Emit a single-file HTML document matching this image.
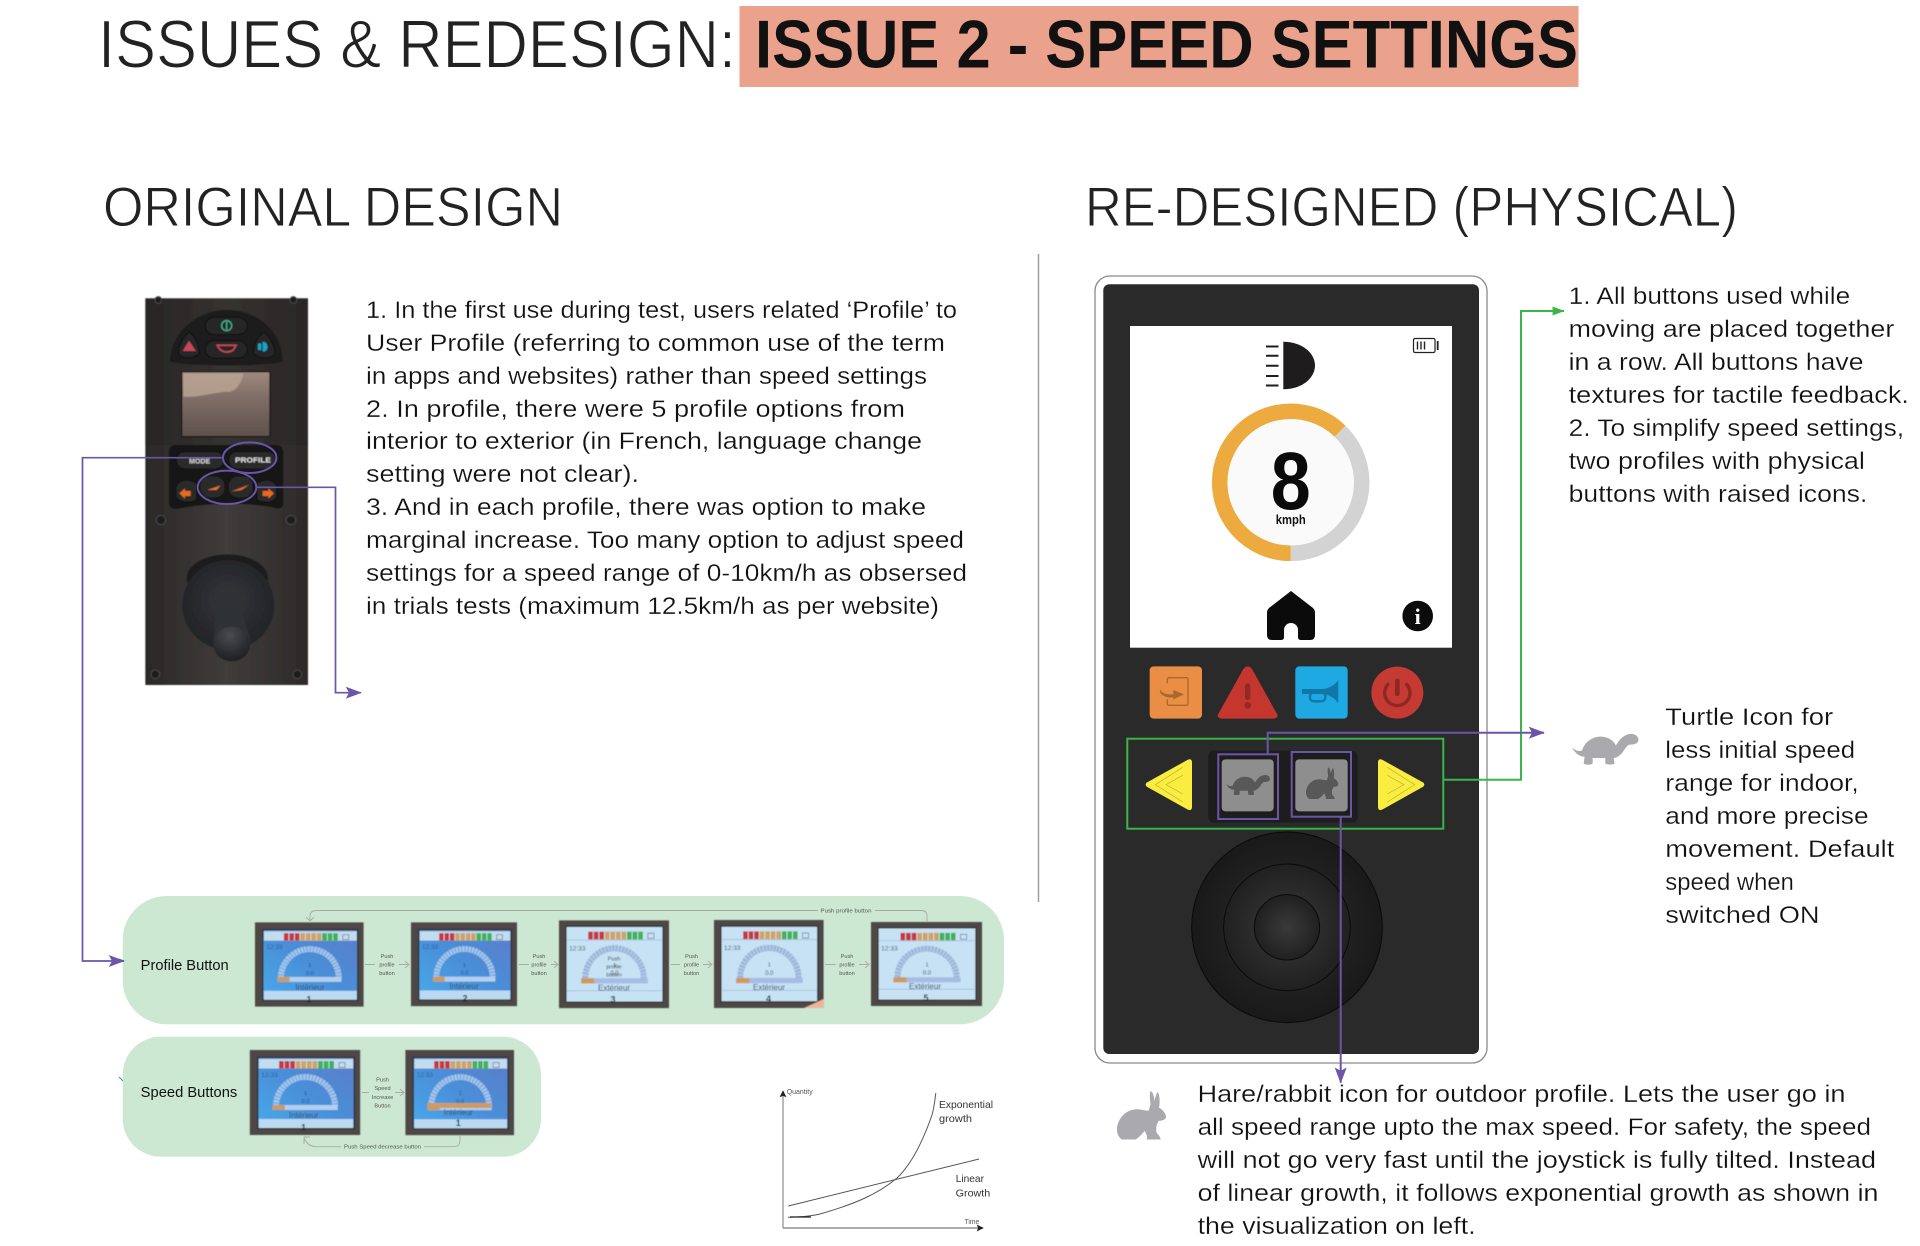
<!DOCTYPE html>
<html>
<head>
<meta charset="utf-8">
<title>Issue 2 - Speed Settings</title>
<style>
html,body{margin:0;padding:0;background:#fff;width:1920px;height:1246px;overflow:hidden}
svg{display:block}
text{font-family:"Liberation Sans",sans-serif}
.t{font-size:24px;fill:#111;stroke:#fff;stroke-width:.22px}
.h{font-size:56px;fill:#222;stroke:#fff;stroke-width:.9px}
.m{font-size:68px;fill:#222;stroke:#fff;stroke-width:1.1px}
.s{font-size:5.6px;fill:#555;text-anchor:middle}
.lb{font-size:8px;fill:#3b4a66;text-anchor:middle}
.n{font-size:9px;font-weight:bold;fill:#1c2a44;text-anchor:middle}
</style>
</head>
<body>
<svg width="1920" height="1246" viewBox="0 0 1920 1246" xmlns="http://www.w3.org/2000/svg">
<defs>
<filter id="soft" x="-5%" y="-5%" width="110%" height="110%"><feGaussianBlur stdDeviation=".45"/></filter>
<filter id="soft2" x="-5%" y="-5%" width="110%" height="110%"><feGaussianBlur stdDeviation="1.6"/></filter>
<marker id="pa" viewBox="0 0 10 10" refX="9.5" refY="5" markerWidth="16" markerHeight="12" markerUnits="userSpaceOnUse" orient="auto" preserveAspectRatio="none"><path d="M0,0L10,5L0,10L2,5Z" fill="#6a55a8"/></marker>
<marker id="ga" viewBox="0 0 10 10" refX="9.5" refY="5" markerWidth="12" markerHeight="9" markerUnits="userSpaceOnUse" orient="auto" preserveAspectRatio="none"><path d="M0,0L10,5L0,10Z" fill="#3bb54a"/></marker>
<marker id="k" viewBox="0 0 10 10" refX="9" refY="5" markerWidth="7" markerHeight="7" markerUnits="userSpaceOnUse" orient="auto"><path d="M0,0L10,5L0,10L2,5Z" fill="#222"/></marker>
<linearGradient id="plate" x1="0" x2="1" y1="0" y2="0"><stop offset="0" stop-color="#2b2827"/><stop offset=".5" stop-color="#403c3b"/><stop offset="1" stop-color="#2d2a29"/></linearGradient>
<linearGradient id="lcd" x1="0" x2="0" y1="0" y2="1"><stop offset="0" stop-color="#a08a7e"/><stop offset=".35" stop-color="#84706a"/><stop offset="1" stop-color="#5e504c"/></linearGradient>
<linearGradient id="bl" x1="0" x2="1" y1="1" y2="0"><stop offset="0" stop-color="#4aa9ea"/><stop offset=".5" stop-color="#4a8fd8"/><stop offset="1" stop-color="#5c7cc8"/></linearGradient>
<radialGradient id="j1"><stop offset="0" stop-color="#2e2e2e"/><stop offset="1" stop-color="#191919"/></radialGradient>
<radialGradient id="j2"><stop offset="0" stop-color="#3a3a3a"/><stop offset="1" stop-color="#202020"/></radialGradient>
<radialGradient id="jb" cx=".5" cy=".45"><stop offset="0" stop-color="#35373b"/><stop offset="1" stop-color="#232528"/></radialGradient>
<radialGradient id="kn" cx=".45" cy=".25" r=".8"><stop offset="0" stop-color="#4a4c50"/><stop offset=".6" stop-color="#2c2e31"/><stop offset="1" stop-color="#1d1e20"/></radialGradient>

<symbol id="rabbit" viewBox="0 0 146 146" preserveAspectRatio="none"><path d="M0,112C2,85 25,55 60,55C75,55 88,62 95,58L100,40C97,20 97,5 100,0C108,5 110,15 112,30C115,15 118,5 122,3C128,15 128,35 125,50C135,55 146,68 146,78C146,86 135,90 124,90C118,100 115,112 118,125C122,132 130,138 130,146L88,146C92,138 88,130 82,120C75,130 65,140 55,146L14,146C4,138 -1,126 0,112Z"/></symbol>
<symbol id="turtle" viewBox="0 0 200 93" preserveAspectRatio="none"><path d="M0,40C10,50 20,52 30,50C38,25 60,8 85,8C110,8 125,20 132,35C140,20 155,0 178,0C193,0 200,10 200,17C200,27 190,32 175,32C165,32 160,45 150,58C140,68 130,72 125,72L128,88C128,92 105,93 100,88L100,72L62,72L62,88C60,93 38,93 35,88L38,68C25,68 10,60 0,40Z"/></symbol>

<g id="bars">
<rect x="29" y="11" width="4.5" height="7.5" fill="#c8353c"/><rect x="34.5" y="11" width="4.5" height="7.5" fill="#c8353c"/><rect x="40" y="11" width="4.5" height="7.5" fill="#c8353c"/>
<rect x="45.5" y="11" width="4.5" height="7.5" fill="#d2a15f"/><rect x="51" y="11" width="4.5" height="7.5" fill="#d2a15f"/><rect x="56.5" y="11" width="4.5" height="7.5" fill="#d2a15f"/><rect x="62" y="11" width="4.5" height="7.5" fill="#d2a15f"/>
<rect x="67.5" y="11" width="4.5" height="7.5" fill="#3cb253"/><rect x="73" y="11" width="4.5" height="7.5" fill="#3cb253"/><rect x="78.5" y="11" width="4.5" height="7.5" fill="#3cb253"/>
<rect x="88" y="12.5" width="6" height="5" fill="none" stroke="#6a7a90" stroke-width=".7"/>
</g>
<symbol id="sb" viewBox="0 0 109 85" preserveAspectRatio="none">
<rect width="109" height="85" fill="#4d4744"/>
<rect x="8" y="7.5" width="95" height="71" fill="url(#bl)" stroke="#24201f" stroke-width="1"/>
<rect x="9" y="9" width="93" height="9.5" fill="#c3dcee"/>
<rect x="9" y="69" width="93" height="9" fill="#bcd9f2"/>
<use href="#bars"/>
<path d="M26,56A29,29 0 0 1 84,56" fill="none" stroke="#a3c4ea" stroke-width="6" stroke-dasharray="2.7 .6"/>
<rect x="22.7" y="55" width="64" height="5" fill="#b4cfee"/><rect x="22.7" y="55" width="12" height="5" fill="#d09a66"/>
<text x="11.5" y="27" font-size="6.5" fill="#2c5a98">12:33</text>
<text x="55" y="45" font-size="5.5" fill="#204a88" text-anchor="middle">1</text>
<text x="55" y="53" font-size="5.8" fill="#204a88" text-anchor="middle">0.0</text>
</symbol>
<symbol id="sl" viewBox="0 0 109 85" preserveAspectRatio="none">
<rect width="109" height="85" fill="#4d4744"/>
<rect x="7" y="6" width="96" height="73" fill="#c6e2f4" stroke="#24201f" stroke-width="1"/>
<line x1="8" y1="19" x2="102" y2="19" stroke="#8aa7c4" stroke-width=".5"/>
<line x1="8" y1="68" x2="102" y2="68" stroke="#8aa7c4" stroke-width=".5"/>
<use href="#bars"/>
<path d="M26,56A29,29 0 0 1 84,56" fill="none" stroke="#9db6da" stroke-width="6" stroke-dasharray="2.7 .6"/>
<rect x="22" y="56" width="66" height="5" fill="#a6bce4"/><rect x="22" y="56" width="13" height="5" fill="#d09a5e"/>
<text x="10" y="29" font-size="6.5" fill="#444f60">12:33</text>
<text x="55" y="45" font-size="5.5" fill="#333c4a" text-anchor="middle">1</text>
<text x="55" y="53" font-size="5.8" fill="#333c4a" text-anchor="middle">0.0</text>
</symbol>
</defs>

<!-- title -->
<rect x="739.5" y="6" width="839" height="81" fill="#eba28c"/>
<text class="m" x="98" y="67.5" textLength="638" lengthAdjust="spacingAndGlyphs">ISSUES &amp; REDESIGN:</text>
<text x="755" y="67.5" font-size="68" font-weight="bold" fill="#111" textLength="823" lengthAdjust="spacingAndGlyphs">ISSUE 2 - SPEED SETTINGS</text>

<text class="h" x="103" y="226" textLength="460" lengthAdjust="spacingAndGlyphs">ORIGINAL DESIGN</text>
<text class="h" x="1085" y="226" textLength="653" lengthAdjust="spacingAndGlyphs">RE-DESIGNED (PHYSICAL)</text>

<line x1="1038.5" y1="254" x2="1038.5" y2="902" stroke="#9a9a9a" stroke-width="1.4"/>

<!-- paragraph left -->
<text class="t" x="366" y="318" textLength="591" lengthAdjust="spacingAndGlyphs">1. In the first use during test, users related ‘Profile’ to</text>
<text class="t" x="366" y="351" textLength="579" lengthAdjust="spacingAndGlyphs">User Profile (referring to common use of the term</text>
<text class="t" x="366" y="384" textLength="561" lengthAdjust="spacingAndGlyphs">in apps and websites) rather than speed settings</text>
<text class="t" x="366" y="417" textLength="539" lengthAdjust="spacingAndGlyphs">2. In profile, there were 5 profile options from</text>
<text class="t" x="366" y="449" textLength="556" lengthAdjust="spacingAndGlyphs">interior to exterior (in French, language change</text>
<text class="t" x="366" y="482" textLength="273" lengthAdjust="spacingAndGlyphs">setting were not clear).</text>
<text class="t" x="366" y="515" textLength="560" lengthAdjust="spacingAndGlyphs">3. And in each profile, there was option to make</text>
<text class="t" x="366" y="548" textLength="598" lengthAdjust="spacingAndGlyphs">marginal increase. Too many option to adjust speed</text>
<text class="t" x="366" y="581" textLength="601" lengthAdjust="spacingAndGlyphs">settings for a speed range of 0-10km/h as obsersed</text>
<text class="t" x="366" y="614" textLength="573" lengthAdjust="spacingAndGlyphs">in trials tests (maximum 12.5km/h as per website)</text>

<!-- paragraph right -->
<text class="t" x="1568.6" y="304" textLength="281.6" lengthAdjust="spacingAndGlyphs">1. All buttons used while</text>
<text class="t" x="1568.6" y="337" textLength="325.7" lengthAdjust="spacingAndGlyphs">moving are placed together</text>
<text class="t" x="1568.6" y="370" textLength="295" lengthAdjust="spacingAndGlyphs">in a row. All buttons have</text>
<text class="t" x="1568.6" y="403" textLength="340.4" lengthAdjust="spacingAndGlyphs">textures for tactile feedback.</text>
<text class="t" x="1568.6" y="436" textLength="335.5" lengthAdjust="spacingAndGlyphs">2. To simplify speed settings,</text>
<text class="t" x="1568.6" y="469" textLength="296.3" lengthAdjust="spacingAndGlyphs">two profiles with physical</text>
<text class="t" x="1568.6" y="502" textLength="298.8" lengthAdjust="spacingAndGlyphs">buttons with raised icons.</text>

<!-- turtle text -->
<text class="t" x="1665.3" y="725" textLength="167.8" lengthAdjust="spacingAndGlyphs">Turtle Icon for</text>
<text class="t" x="1665.3" y="758" textLength="189.8" lengthAdjust="spacingAndGlyphs">less initial speed</text>
<text class="t" x="1665.3" y="791" textLength="193.5" lengthAdjust="spacingAndGlyphs">range for indoor,</text>
<text class="t" x="1665.3" y="824" textLength="203.3" lengthAdjust="spacingAndGlyphs">and more precise</text>
<text class="t" x="1665.3" y="857" textLength="229" lengthAdjust="spacingAndGlyphs">movement. Default</text>
<text class="t" x="1665.3" y="890" textLength="128.6" lengthAdjust="spacingAndGlyphs">speed when</text>
<text class="t" x="1665.3" y="923" textLength="154.3" lengthAdjust="spacingAndGlyphs">switched ON</text>

<!-- hare text -->
<text class="t" x="1197.6" y="1102" textLength="647.8" lengthAdjust="spacingAndGlyphs">Hare/rabbit icon for outdoor profile. Lets the user go in</text>
<text class="t" x="1197.6" y="1135" textLength="673.5" lengthAdjust="spacingAndGlyphs">all speed range upto the max speed. For safety, the speed</text>
<text class="t" x="1197.6" y="1168" textLength="678.4" lengthAdjust="spacingAndGlyphs">will not go very fast until the joystick is fully tilted. Instead</text>
<text class="t" x="1197.6" y="1201" textLength="680.8" lengthAdjust="spacingAndGlyphs">of linear growth, it follows exponential growth as shown in</text>
<text class="t" x="1197.6" y="1234" textLength="278" lengthAdjust="spacingAndGlyphs">the visualization on left.</text>

<!-- gray icons -->
<use href="#rabbit" x="1117" y="1091" width="49" height="48.5" fill="#a9a9ae"/>
<use href="#turtle" x="1572" y="734" width="66.5" height="31" fill="#a9a9ae"/>

<!-- photo of original controller -->
<g transform="translate(100 270) scale(.33333)">
<g filter="url(#soft2)">
<rect x="136" y="85" width="488" height="1160" fill="url(#plate)"/>
<rect x="136" y="85" width="488" height="440" fill="#262322" opacity=".4"/>
<path d="M210,275C212,180 300,120 380,120C470,120 546,180 548,275C500,290 260,290 210,275Z" fill="#1b1a1a"/>
<rect x="316" y="142" width="126" height="52" rx="26" fill="#252526" stroke="#0d0d0d" stroke-width="3"/>
<circle cx="380" cy="167" r="15" fill="none" stroke="#3fb28a" stroke-width="4"/><line x1="380" y1="155" x2="380" y2="179" stroke="#3fb28a" stroke-width="4"/>
<rect x="316" y="212" width="126" height="52" rx="26" fill="#252526" stroke="#0d0d0d" stroke-width="3"/>
<path d="M352,226L408,226L400,240C380,252 360,245 352,226Z" fill="none" stroke="#c9465a" stroke-width="5"/>
<path d="M268,186C250,200 235,225 235,250C240,268 285,268 298,250C298,225 285,200 268,186Z" fill="#252526" stroke="#0d0d0d" stroke-width="3"/>
<path d="M267,212L288,243L248,243Z" fill="#c9465a"/>
<path d="M492,186C510,200 525,225 525,250C520,268 475,268 460,250C460,225 472,200 492,186Z" fill="#252526" stroke="#0d0d0d" stroke-width="3"/>
<path d="M488,215C505,215 510,245 488,245ZM474,220H484V240H474Z" fill="#12a5c8"/>
<rect x="245" y="305" width="265" height="195" fill="url(#lcd)" stroke="#171515" stroke-width="4"/>
<path d="M250,310H430C425,345 400,370 380,365C330,370 280,385 250,380Z" fill="#b9a293" opacity=".85"/>
<path d="M207,545C207,530 215,525 225,525H530C545,525 550,535 550,550V695C550,715 540,720 520,712C420,695 320,700 240,715C215,720 207,712 207,695Z" fill="#171616"/>
<rect x="229" y="545" width="142" height="52" rx="24" fill="#2b2a2b" stroke="#0b0b0b" stroke-width="3"/>
<text x="299" y="580" font-size="21" font-weight="bold" fill="#d8d8d8" text-anchor="middle">MODE</text>
<rect x="386" y="545" width="142" height="52" rx="24" fill="#2b2a2b" stroke="#0b0b0b" stroke-width="3"/>
<text x="459" y="578" font-size="21" font-weight="bold" fill="#e2e2e2" text-anchor="middle" textLength="108" lengthAdjust="spacingAndGlyphs">PROFILE</text>
<rect x="300" y="618" width="75" height="66" rx="28" fill="#2b2a2b" stroke="#0b0b0b" stroke-width="3"/>
<rect x="385" y="618" width="75" height="66" rx="28" fill="#2b2a2b" stroke="#0b0b0b" stroke-width="3"/>
<path d="M322,660L362,646L350,660Z" fill="#e0722c"/><path d="M395,664L448,644L425,660Z" fill="#e0722c"/>
<path d="M228,650C235,630 262,622 290,640V690C270,700 235,700 228,680Z" fill="#2b2a2b" stroke="#0b0b0b" stroke-width="3"/>
<path d="M238,670L255,655V663H272V678H255V686Z" fill="#e86a22"/>
<path d="M530,650C525,630 498,622 470,640V690C490,700 525,700 530,680Z" fill="#2b2a2b" stroke="#0b0b0b" stroke-width="3"/>
<path d="M522,670L505,655V663H488V678H505V686Z" fill="#e86a22"/>
<g fill="#1f1e1e" stroke="#4a4a4a" stroke-width="3"><circle cx="183" cy="750" r="14"/><circle cx="573" cy="750" r="14"/><circle cx="166" cy="1213" r="13"/><circle cx="592" cy="1213" r="13"/><circle cx="175" cy="90" r="10"/><circle cx="580" cy="90" r="10"/></g>
<ellipse cx="382" cy="925" rx="122" ry="72" fill="#1c1d1f"/>
<ellipse cx="385" cy="1005" rx="138" ry="135" fill="url(#jb)"/>
<path d="M345,1000C345,982 362,968 385,968C408,968 425,982 425,1000C425,1030 435,1060 450,1100C458,1150 430,1172 395,1172C355,1172 335,1145 340,1105C348,1060 345,1030 345,1000Z" fill="#2e3034"/>
<ellipse cx="395" cy="1122" rx="55" ry="52" fill="url(#kn)"/>
</g>
</g>

<!-- green panels -->
<rect x="122.7" y="896" width="881.3" height="128.3" rx="44" fill="#cde8d2"/>
<rect x="122.7" y="1036.7" width="418.3" height="120" rx="38" fill="#cde8d2"/>
<line x1="119" y1="1077" x2="123" y2="1081" stroke="#1fa88a" stroke-width="1"/>
<line x1="119" y1="959" x2="124" y2="961" stroke="#1fa88a" stroke-width="1"/>

<text x="140.7" y="970" font-size="14.5" fill="#111" textLength="88" lengthAdjust="spacingAndGlyphs">Profile Button</text>
<text x="140.7" y="1097" font-size="14.5" fill="#111" textLength="96.6" lengthAdjust="spacingAndGlyphs">Speed Buttons</text>

<!-- screens -->
<g filter="url(#soft)">
<g transform="translate(255 922.3)"><use href="#sb" width="108.7" height="84.4"/><text class="lb" x="55" y="67.5">Intérieur</text><text class="n" x="54" y="80">1</text></g>
<g transform="translate(411 922.3)"><use href="#sb" width="106" height="84"/><text class="lb" x="53" y="66.5">Intérieur</text><text class="n" x="54" y="79">2</text></g>
<g transform="translate(559 920.3)"><use href="#sl" width="110" height="88"/><text class="lb" x="55" y="70">Extérieur</text><text class="n" x="54" y="82">3</text>
<text x="55" y="40" font-size="5.6" fill="#333" text-anchor="middle">Push</text><text x="55" y="48" font-size="5.6" fill="#333" text-anchor="middle">profile</text><text x="55" y="56" font-size="5.6" fill="#333" text-anchor="middle">button</text></g>
<g transform="translate(714 920)"><use href="#sl" width="109.7" height="88"/><text class="lb" x="55" y="70">Extérieur</text><text class="n" x="54.5" y="82">4</text><path d="M90,88L109.7,79V88Z" fill="#eeb59a"/></g>
<g transform="translate(871 922)"><use href="#sl" width="111" height="84"/><text class="lb" x="54" y="67">Extérieur</text><text class="n" x="55" y="79">5</text></g>
<g transform="translate(249.7 1050)"><use href="#sb" width="110.6" height="85"/><text class="lb" x="54" y="68">Intérieur</text><text class="n" x="54" y="80.5">1</text></g>
<g transform="translate(405.3 1050)"><use href="#sb" width="108.7" height="85.3"/><rect x="22" y="53" width="64" height="5" fill="#d09a66"/><text class="lb" x="53" y="65">Intérieur</text><text class="n" x="53" y="76">1</text></g>
</g>

<!-- small flow labels and arrows -->
<g fill="none" stroke="#a9aca6" stroke-width=".9">
<path d="M365,964.5H375M399,964.5H409M405,961L409,964.5L405,968"/>
<path d="M519,964.5H529M551,964.5H558M554,961L558,964.5L554,968"/>
<path d="M671,964.5H680M703,964.5H712M708,961L712,964.5L708,968"/>
<path d="M825,964.5H836M859,964.5H869M865,961L869,964.5L865,968"/>
<path d="M362,1092.5H369M395,1092.5H404M400,1089L404,1092.5L400,1096"/>
<path d="M927,922V916Q927,910.5 921,910.5H875M818,910.5H317Q310,910.5 310,916V920M306,917L310,921L314,917"/>
<path d="M460,1136V1141Q460,1146.7 453,1146.7H424M341,1146.7H316Q308,1146.7 304,1138M304,1144L304,1137L310,1137"/>
</g>
<text class="s" x="387" y="958">Push</text><text class="s" x="387" y="966.5">profile</text><text class="s" x="387" y="975">button</text>
<text class="s" x="539" y="958">Push</text><text class="s" x="539" y="966.5">profile</text><text class="s" x="539" y="975">button</text>
<text class="s" x="691.5" y="958">Push</text><text class="s" x="691.5" y="966.5">profile</text><text class="s" x="691.5" y="975">button</text>
<text class="s" x="847" y="958">Push</text><text class="s" x="847" y="966.5">profile</text><text class="s" x="847" y="975">button</text>
<text class="s" x="382.5" y="1081.5">Push</text><text class="s" x="382.5" y="1090">Speed</text><text class="s" x="382.5" y="1099">Increase</text><text class="s" x="382.5" y="1107.5">Button</text>
<text class="s" x="846" y="912.5" textLength="51" lengthAdjust="spacingAndGlyphs">Push profile button</text>
<text class="s" x="382.5" y="1148.7" textLength="77" lengthAdjust="spacingAndGlyphs">Push Speed decrease button</text>

<!-- graph -->
<g fill="none">
<path d="M783,1228V1091" stroke="#8d8d8d" stroke-width="1.2" marker-end="url(#k)"/>
<path d="M783,1228H983" stroke="#8d8d8d" stroke-width="1.4" marker-end="url(#k)"/>
<path d="M788.3,1206L979,1159" stroke="#555" stroke-width="1"/>
<path d="M788,1217.3C800,1217 810,1216.5 820,1214C855,1204 878,1194 897,1178C913,1163 925,1135 932,1115C934,1108 935,1100 935.8,1093" stroke="#555" stroke-width="1"/>
<path d="M790,1217H811" stroke="#222" stroke-width="1.2"/>
</g>
<text x="786.7" y="1094" font-size="7" fill="#555" textLength="26" lengthAdjust="spacingAndGlyphs">Quantity</text>
<text x="964.5" y="1224" font-size="7" fill="#555" textLength="14.7" lengthAdjust="spacingAndGlyphs">Time</text>
<text x="939" y="1108" font-size="10.5" fill="#333" textLength="54" lengthAdjust="spacingAndGlyphs">Exponential</text>
<text x="939" y="1122" font-size="10.5" fill="#333" textLength="33" lengthAdjust="spacingAndGlyphs">growth</text>
<text x="955.7" y="1182" font-size="10.5" fill="#333" textLength="28.3" lengthAdjust="spacingAndGlyphs">Linear</text>
<text x="955.7" y="1196.3" font-size="10.5" fill="#333" textLength="34.5" lengthAdjust="spacingAndGlyphs">Growth</text>

<!-- device -->
<rect x="1095" y="276" width="392" height="787" rx="15" fill="#fff" stroke="#8a8a8a" stroke-width="1.3"/>
<rect x="1103.3" y="284.3" width="375.7" height="769.7" rx="6" fill="#2a2a2a"/>
<rect x="1130" y="326" width="322" height="321.7" fill="#fff"/>
<!-- headlight -->
<path d="M1283.3,341.7C1302,341.7 1315,353 1315,365.5C1315,378 1302,389.3 1283.3,389.3Z" fill="#1e1c1d"/>
<path d="M1266,346.5h12.5M1266,355.7h12.5M1266,365.7h12.5M1266,376h12.5M1266,385.5h12.5" stroke="#1e1c1d" stroke-width="2"/>
<!-- battery -->
<rect x="1413.5" y="338.5" width="21.5" height="14" rx="1.5" fill="none" stroke="#222" stroke-width="1.2"/>
<path d="M1417.5,341.5v8M1421,341.5v8M1424.5,341.5v8" stroke="#222" stroke-width="1.4"/>
<rect x="1436.8" y="341" width="1.8" height="9" fill="#222"/>
<!-- gauge -->
<circle cx="1290.7" cy="482.3" r="64" fill="#fafafa"/>
<path d="M1340,431.2A71,71 0 0 1 1290.7,553.3" fill="none" stroke="#d3d3d3" stroke-width="15.5"/>
<path d="M1290.7,553.3A71,71 0 1 1 1340,431.2" fill="none" stroke="#ecaa3f" stroke-width="15.5"/>
<text x="1290.7" y="509" font-size="82" font-weight="bold" fill="#0a0a0a" text-anchor="middle" textLength="40" lengthAdjust="spacingAndGlyphs">8</text>
<text x="1290.7" y="524" font-size="12.5" font-weight="bold" fill="#111" text-anchor="middle" textLength="30" lengthAdjust="spacingAndGlyphs">kmph</text>
<!-- home -->
<path d="M1291,591L1313,608Q1315,610 1315,613V635Q1315,640 1310,640H1301Q1298,640 1298,637V630A7,7 0 0 0 1284,630V637Q1284,640 1281,640H1272Q1267,640 1267,635V613Q1267,610 1269,608Z" fill="#0b0b0b"/>
<!-- info -->
<circle cx="1417.7" cy="616" r="15.3" fill="#0b0b0b"/>
<text x="1417.7" y="624" font-size="22" font-weight="bold" fill="#fff" text-anchor="middle" style="font-family:'Liberation Serif',serif">i</text>

<g transform="translate(1090 650) scale(.33333)">
<rect x="179" y="49" width="157" height="157" rx="12" fill="#ea8e45"/>
<path d="M232,100V88Q232,83 238,83H288Q294,83 294,88V160Q294,166 288,166H238Q232,166 232,160V148" fill="none" stroke="#a9682c" stroke-width="4"/>
<path d="M210,118C218,135 240,133 250,133V120L282,133L250,148V142C232,145 205,135 210,118Z" fill="#a9682c"/>
<path d="M473,49C466,49 460,56 456,64L386,190C378,200 388,206 398,206H548C558,206 568,200 560,190L490,64C486,56 480,49 473,49Z" fill="#c5362f"/>
<rect x="465" y="100" width="16" height="50" rx="8" fill="#8f2a24"/><circle cx="473" cy="166" r="10" fill="#8f2a24"/>
<rect x="616" y="49" width="157" height="157" rx="12" fill="#1fa9e2"/>
<path d="M636,117H695C715,117 735,105 745,90V160C735,145 715,132 695,132H636Z" fill="#0f78a8"/>
<rect x="660" y="128" width="46" height="26" rx="11" fill="none" stroke="#0f78a8" stroke-width="7"/>
<circle cx="922" cy="128" r="78" fill="#c53a33"/>
<path d="M897,100A38,38 0 1 0 947,100" fill="none" stroke="#8e2820" stroke-width="10"/>
<rect x="915" y="86" width="14" height="52" rx="6" fill="#8e2820"/>

<rect x="355" y="302" width="448" height="216" rx="16" fill="#1d1d1d"/>
<rect x="395" y="328" width="156" height="156" rx="11" fill="#8e8e8e"/>
<rect x="616" y="328" width="157" height="156" rx="11" fill="#8e8e8e"/>
<use href="#turtle" x="408" y="375" width="132" height="61" fill="#585858"/>
<use href="#rabbit" x="648" y="352" width="97" height="95" fill="#585858"/>

<path d="M170,398Q164,404 170,410L292,478Q306,485 306,470V338Q306,323 292,330Z" fill="#fbed3f"/>
<path d="M1000,398Q1006,404 1000,410L878,478Q864,485 864,470V338Q864,323 878,330Z" fill="#fbed3f"/>
<path d="M278,352L196,404L278,456M278,376L228,404L278,432" fill="none" stroke="#b8ae36" stroke-width="2"/>
<path d="M892,352L974,404L892,456M892,376L942,404L892,432" fill="none" stroke="#b8ae36" stroke-width="2"/>

<circle cx="591" cy="832" r="286" fill="url(#j1)" stroke="#0a0a0a" stroke-width="3"/>
<circle cx="591" cy="832" r="190" fill="url(#j2)" stroke="#0a0a0a" stroke-width="3"/>
<circle cx="591" cy="832" r="98" fill="url(#j2)" stroke="#0a0a0a" stroke-width="3"/>
</g>

<!-- green frame and connector -->
<rect x="1127.3" y="738.7" width="316" height="90" fill="none" stroke="#3bb54a" stroke-width="2"/>
<path d="M1443.3,779.7H1521V311H1564" fill="none" stroke="#3bb54a" stroke-width="2" marker-end="url(#ga)"/>

<!-- purple frames and connectors -->
<rect x="1218.3" y="754.3" width="59.7" height="64.7" fill="none" stroke="#6a55a8" stroke-width="2"/>
<rect x="1291.7" y="752" width="59.3" height="64.7" fill="none" stroke="#6a55a8" stroke-width="2"/>
<path d="M1267.7,754.3V732.7H1544" fill="none" stroke="#6a55a8" stroke-width="2" marker-end="url(#pa)"/>
<path d="M1340.7,816.7V1082.7" fill="none" stroke="#6a55a8" stroke-width="2" marker-end="url(#pa)"/>
<ellipse cx="249.7" cy="457.7" rx="26.7" ry="15.3" fill="none" stroke="#6a55a8" stroke-width="2"/>
<ellipse cx="227" cy="487.3" rx="29.3" ry="16.7" fill="none" stroke="#6a55a8" stroke-width="2"/>
<path d="M221.7,457.7H82.5V961H124" fill="none" stroke="#6a55a8" stroke-width="1.7" marker-end="url(#pa)"/>
<path d="M256.7,487.3H335.5V692.7H361" fill="none" stroke="#6a55a8" stroke-width="1.7" marker-end="url(#pa)"/>
</svg>
</body>
</html>
